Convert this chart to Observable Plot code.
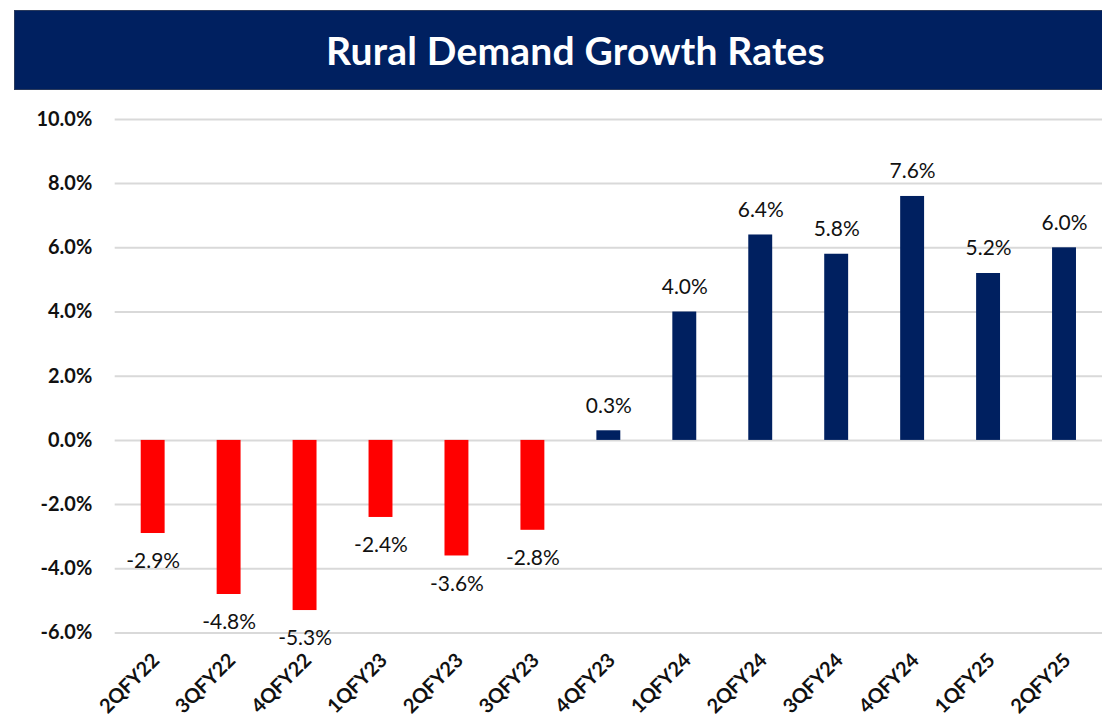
<!DOCTYPE html>
<html>
<head>
<meta charset="utf-8">
<script src="https://cdn.jsdelivr.net/npm/d3@7"></script>
<script src="https://cdn.jsdelivr.net/npm/@observablehq/plot@0.6"></script>
<style>
  html, body { margin: 0; padding: 0; background: #fff; }
  body { width: 1102px; height: 720px; overflow: hidden; position: relative; font-family: Lato, "Open Sans", sans-serif; }
  #banner {
    position: absolute; left: 14px; top: 10px; width: 1088px; height: 80px;
    background: #002060; border: 1px solid #2a3a5c; border-right: none; box-sizing: border-box;
  }
  #banner h1 {
    margin: 0; position: absolute; left: 0; right: -34px; top: 0; bottom: 0;
    display: flex; align-items: center; justify-content: center;
    color: #fff; font-size: 39px; font-weight: 700; letter-spacing: 0.2px;
  }
  #chart { position: absolute; left: 0; top: 91px; }
</style>
</head>
<body>
<div id="banner"><h1>Rural Demand Growth Rates</h1></div>
<div id="chart"></div>
<script>
// Quarterly rural demand growth, % year on year
const quarters = ["2QFY22", "3QFY22", "4QFY22", "1QFY23", "2QFY23", "3QFY23", "4QFY23",
                  "1QFY24", "2QFY24", "3QFY24", "4QFY24", "1QFY25", "2QFY25"];
const growth = [-2.9, -4.8, -5.3, -2.4, -3.6, -2.8, 0.3, 4.0, 6.4, 5.8, 7.6, 5.2, 6.0];
const yTicks = [-6, -4, -2, 0, 2, 4, 6, 8, 10];

const rows = quarters.map((q, i) => ({quarter: q, value: growth[i]}));
const pct = v => v.toFixed(1) + "%";

const chart = Plot.plot({
  width: 1105,
  height: 629,
  marginTop: 28,
  marginBottom: 86,
  marginLeft: 115,
  marginRight: 0,
  style: {fontFamily: "Lato, 'Open Sans', sans-serif", background: "transparent"},
  x: {domain: quarters, paddingInner: 0.685, paddingOuter: 0.3425, round: false, label: null},
  y: {domain: [-6, 10], ticks: yTicks, label: null},
  marks: [
    Plot.gridY(yTicks, {stroke: "#d9d9d9", strokeWidth: 2, strokeOpacity: 1}),
    Plot.axisY({
      ticks: yTicks, tickSize: 0, tickPadding: 23, tickFormat: pct,
      fontSize: 20, fontWeight: "bold", fill: "#111", label: null
    }),
    Plot.axisX({
      tickSize: 0, tickRotate: -45, tickPadding: 24, dx: 3,
      fontSize: 20, fontWeight: "bold", fill: "#111", label: null
    }),
    Plot.barY(rows, {
      x: "quarter", y: "value",
      fill: d => d.value < 0 ? "#ff0000" : "#002060"
    }),
    Plot.text(rows.filter(d => d.value >= 0), {
      x: "quarter", y: "value", text: d => pct(d.value),
      dy: -25, fontSize: 21, fill: "#111"
    }),
    Plot.text(rows.filter(d => d.value < 0), {
      x: "quarter", y: "value", text: d => pct(d.value),
      dy: 28, fontSize: 21, fill: "#111"
    })
  ]
});
document.getElementById("chart").append(chart);
</script>
</body>
</html>
